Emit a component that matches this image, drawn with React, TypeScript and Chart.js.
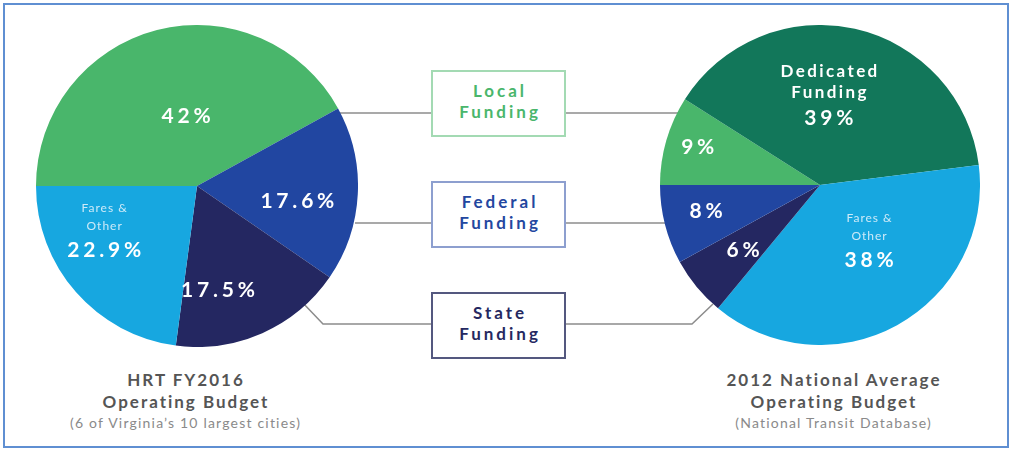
import React, { useEffect, useRef } from 'react';
import { Chart, registerables } from 'chart.js';

Chart.register(...registerables);

// ---- Data ----
const hrtCategories = ['Local Funding', 'Federal Funding', 'State Funding', 'Fares & Other'];
const hrtValues = [42, 17.6, 17.5, 22.9];
const hrtLabels = ['42%', '17.6%', '17.5%', '22.9%'];
const hrtSubLabels: string[][] = [[], [], [], ['Fares &', 'Other']];

const natCategories = ['Local Funding', 'Dedicated Funding', 'Fares & Other', 'State Funding', 'Federal Funding'];
const natValues = [9, 39, 38, 6, 8];
const natLabels = ['9%', '39%', '38%', '6%', '8%'];
const natSubLabels: string[][] = [[], ['Dedicated', 'Funding'], ['Fares &', 'Other'], [], []];

const boxLabels = [['Local', 'Funding'], ['Federal', 'Funding'], ['State', 'Funding']];

const leftTitle = ['HRT FY2016', 'Operating Budget'];
const leftSubtitle = '(6 of Virginia\u2019s 10 largest cities)';
const rightTitle = ['2012 National Average', 'Operating Budget'];
const rightSubtitle = '(National Transit Database)';

// ---- Styles ----
const COLORS: Record<string, string> = {
  'Local Funding': '#49b66b',
  'Federal Funding': '#2146a1',
  'State Funding': '#242761',
  'Fares & Other': '#17a7e0',
  'Dedicated Funding': '#12775a',
};
// label placement: fraction of radius, angle shift (deg, clockwise)
const hrtLabelPos = [
  { f: 0.44, a: 5.5 },
  { f: 0.63, a: 5.5 },
  { f: 0.66, a: 12.5 },
  { f: 0.7, a: 6.7 },
];
const natLabelPos = [
  { f: 0.8, a: 1 },
  { f: 0.42, a: -5 },
  { f: 0.56, a: -4.4 },
  { f: 0.63, a: -0.6 },
  { f: 0.73, a: 1.6 },
];
const subStyle: Record<string, { font: string; spacing: number; color: string; gap: number; lh: number }> = {
  'Fares & Other': { font: '400 12px Lato', spacing: 1, color: '#cdeaf8', gap: 24, lh: 18 },
  'Dedicated Funding': { font: '700 17px Lato', spacing: 2.4, color: '#ffffff', gap: 26, lh: 21 },
};
const PCT_SPACING = 3.8;

function makeLabelPlugin(labels: string[], subs: string[][], pos: { f: number; a: number }[], cats: string[]) {
  return {
    id: 'sliceLabels',
    afterDatasetsDraw(chart: any) {
      const ctx = chart.ctx as CanvasRenderingContext2D;
      const meta = chart.getDatasetMeta(0);
      meta.data.forEach((arc: any, i: number) => {
        const mid = (arc.startAngle + arc.endAngle) / 2 + (pos[i].a * Math.PI) / 180;
        const r = arc.outerRadius * pos[i].f;
        const x = arc.x + r * Math.cos(mid);
        const y = arc.y + r * Math.sin(mid);
        ctx.save();
        ctx.textAlign = 'center';
        ctx.textBaseline = 'middle';
        ctx.fillStyle = '#ffffff';
        ctx.font = '700 21px Lato';
        (ctx as any).letterSpacing = PCT_SPACING + 'px';
        ctx.fillText(labels[i], x + PCT_SPACING / 2, y);
        const s = subs[i];
        if (s.length) {
          const st = subStyle[cats[i]];
          ctx.font = st.font;
          ctx.fillStyle = st.color;
          (ctx as any).letterSpacing = st.spacing + 'px';
          s.forEach((line, j) => {
            const ly = y - st.gap - (s.length - 1 - j) * st.lh;
            ctx.fillText(line, x + st.spacing / 2, ly);
          });
        }
        ctx.restore();
      });
    },
  };
}

function PieCanvas(props: {
  cats: string[];
  values: number[];
  labels: string[];
  subs: string[][];
  pos: { f: number; a: number }[];
  size: number;
  left: number;
  top: number;
}) {
  const ref = useRef<HTMLCanvasElement | null>(null);
  useEffect(() => {
    if (!ref.current) return;
    const chart = new Chart(ref.current, {
      type: 'pie',
      data: {
        labels: props.cats,
        datasets: [
          {
            data: props.values,
            backgroundColor: props.cats.map((c) => COLORS[c]),
            borderWidth: 0,
          },
        ],
      },
      options: {
        animation: false,
        responsive: false,
        rotation: -90,
        layout: { padding: 0 },
        plugins: { legend: { display: false }, tooltip: { enabled: false } },
      },
      plugins: [makeLabelPlugin(props.labels, props.subs, props.pos, props.cats)],
    });
    return () => chart.destroy();
  }, []);
  return (
    <canvas
      ref={ref}
      width={props.size}
      height={props.size}
      style={{ position: 'absolute', left: props.left, top: props.top, width: props.size, height: props.size }}
    />
  );
}

const boxStyles = [
  { border: '#a3dab3', color: '#4ab66c' },
  { border: '#8d9fcf', color: '#2347a0' },
  { border: '#54587f', color: '#252861' },
];
const boxTops = [70, 181, 292];

export default function App() {
  const titleStyle: React.CSSProperties = {
    position: 'absolute',
    textAlign: 'center',
    fontFamily: 'Lato, sans-serif',
    color: '#555555',
    whiteSpace: 'nowrap',
  };
  const titleLine: React.CSSProperties = {
    fontWeight: 700,
    fontSize: 17,
    lineHeight: '22px',
    letterSpacing: '2px',
    paddingLeft: 2,
  };
  const subLine: React.CSSProperties = {
    fontSize: 14,
    lineHeight: '19px',
    color: '#8a8a8a',
    letterSpacing: '1.2px',
    paddingLeft: 1.2,
  };
  return (
    <div
      style={{
        position: 'absolute',
        left: 0,
        top: 0,
        width: 1011,
        height: 450,
        background: '#ffffff',
        overflow: 'hidden',
        fontFamily: 'Lato, sans-serif',
      }}
    >
      <div
        style={{
          position: 'absolute',
          left: 3,
          top: 3,
          width: 1006,
          height: 445,
          border: '2px solid #5f8fd2',
          boxSizing: 'border-box',
        }}
      />
      <svg width={1011} height={450} style={{ position: 'absolute', left: 0, top: 0 }}>
        <g stroke="#8c8c8c" strokeWidth={1.5} fill="none">
          <polyline points="335,113 431,113" />
          <polyline points="566,113 683,113" />
          <polyline points="355,223 431,223" />
          <polyline points="566,223 665,223" />
          <polyline points="302,302 323,324 431,324" />
          <polyline points="566,324 692,324 713,304" />
        </g>
      </svg>
      <PieCanvas cats={hrtCategories} values={hrtValues} labels={hrtLabels} subs={hrtSubLabels} pos={hrtLabelPos} size={322} left={36} top={25} />
      <PieCanvas cats={natCategories} values={natValues} labels={natLabels} subs={natSubLabels} pos={natLabelPos} size={320} left={660} top={25} />
      {boxLabels.map((lines, i) => (
        <div
          key={i}
          style={{
            position: 'absolute',
            left: 431,
            top: boxTops[i],
            width: 135,
            height: 67,
            boxSizing: 'border-box',
            border: `2px solid ${boxStyles[i].border}`,
            background: '#ffffff',
            display: 'flex',
            flexDirection: 'column',
            justifyContent: 'center',
            alignItems: 'center',
            paddingBottom: 6,
            color: boxStyles[i].color,
            fontWeight: 700,
            fontSize: 17,
            letterSpacing: '3px',
            lineHeight: '21px',
          }}
        >
          {lines.map((l, j) => (
            <div key={j} style={{ paddingLeft: 3 }}>{l}</div>
          ))}
        </div>
      ))}
      <div style={{ ...titleStyle, left: 35, width: 300, top: 369 }}>
        {leftTitle.map((t, i) => (
          <div key={i} style={titleLine}>{t}</div>
        ))}
        <div style={subLine}>{leftSubtitle}</div>
      </div>
      <div style={{ ...titleStyle, left: 683, width: 300, top: 369 }}>
        {rightTitle.map((t, i) => (
          <div key={i} style={titleLine}>{t}</div>
        ))}
        <div style={subLine}>{rightSubtitle}</div>
      </div>
    </div>
  );
}
